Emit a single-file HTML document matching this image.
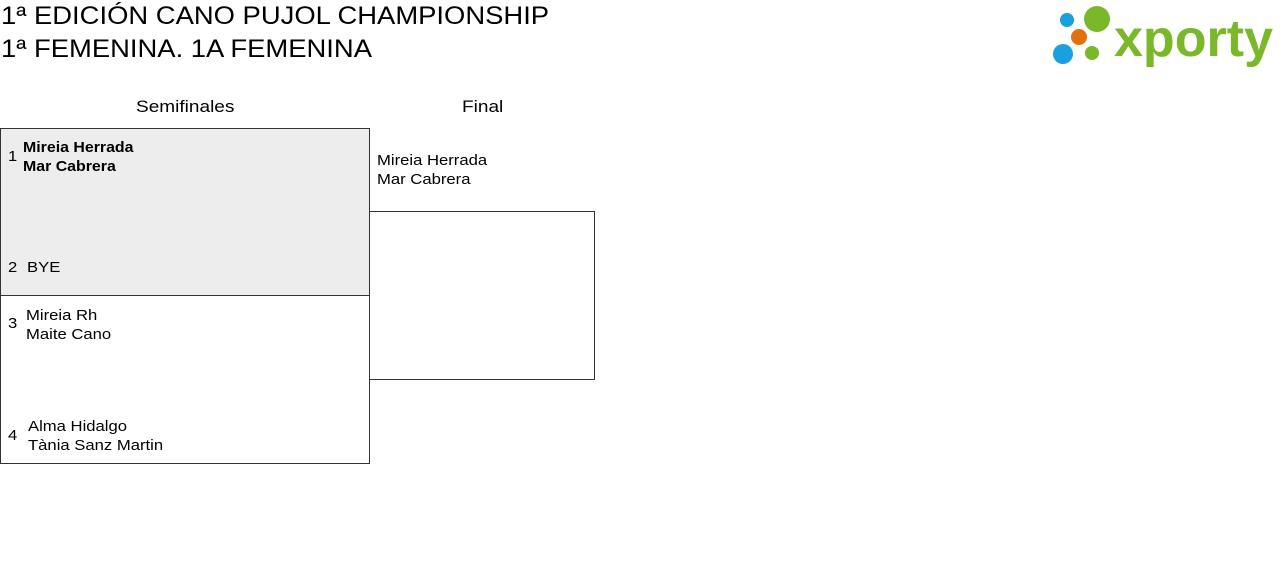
<!DOCTYPE html>
<html><head><meta charset="utf-8"><style>
body{margin:0;width:1280px;height:562px;background:#fff;font-family:"Liberation Sans",sans-serif;color:#000;position:relative;overflow:hidden}
.a{position:absolute;white-space:nowrap;transform-origin:0 0}
.t{font-size:25px;left:1px;transform:scaleX(1.096)}
.h{font-size:17px;transform:scaleX(1.12)}
.n{font-size:15px;transform:scaleX(1.11)}
.box{position:absolute;border:1px solid #333;box-sizing:border-box}
</style></head><body>
<div class="a t" style="top:2px">1ª EDICIÓN CANO PUJOL CHAMPIONSHIP</div>
<div class="a t" style="top:35px">1ª FEMENINA. 1A FEMENINA</div>
<svg class="a" style="left:1040px;top:0" width="240" height="75">
<circle cx="27" cy="20" r="7" fill="#1a9fe0"/>
<circle cx="57" cy="19" r="13" fill="#7ab829"/>
<circle cx="39" cy="37" r="8" fill="#e2700f"/>
<circle cx="23" cy="54" r="10" fill="#1a9fe0"/>
<circle cx="52" cy="53" r="7" fill="#7ab829"/>
<text x="74" y="56" font-family="Liberation Sans" font-weight="bold" font-size="52" fill="#7ab829" textLength="159" lengthAdjust="spacingAndGlyphs">xporty</text>
</svg>
<div class="a h" style="left:136px;top:97px">Semifinales</div>
<div class="a h" style="left:462px;top:97px">Final</div>
<div class="box" style="left:0;top:128px;width:370px;height:168px;background:#ededed"></div>
<div class="box" style="left:0;top:295px;width:370px;height:169px"></div>
<div class="box" style="left:369px;top:211px;width:226px;height:169px"></div>
<div class="a n" style="left:8px;top:148px">1</div>
<div class="a n" style="left:23px;top:138px;font-weight:bold;line-height:19px;transform:scaleX(1.06)">Mireia Herrada<br>Mar Cabrera</div>
<div class="a n" style="left:8px;top:259px">2</div>
<div class="a n" style="left:27px;top:259px">BYE</div>
<div class="a n" style="left:8px;top:315px">3</div>
<div class="a n" style="left:26px;top:306px;line-height:19px">Mireia Rh<br>Maite Cano</div>
<div class="a n" style="left:8px;top:427px">4</div>
<div class="a n" style="left:28px;top:417px;line-height:19px">Alma Hidalgo<br>Tània Sanz Martin</div>
<div class="a n" style="left:377px;top:151px;line-height:19px">Mireia Herrada<br>Mar Cabrera</div>
</body></html>
